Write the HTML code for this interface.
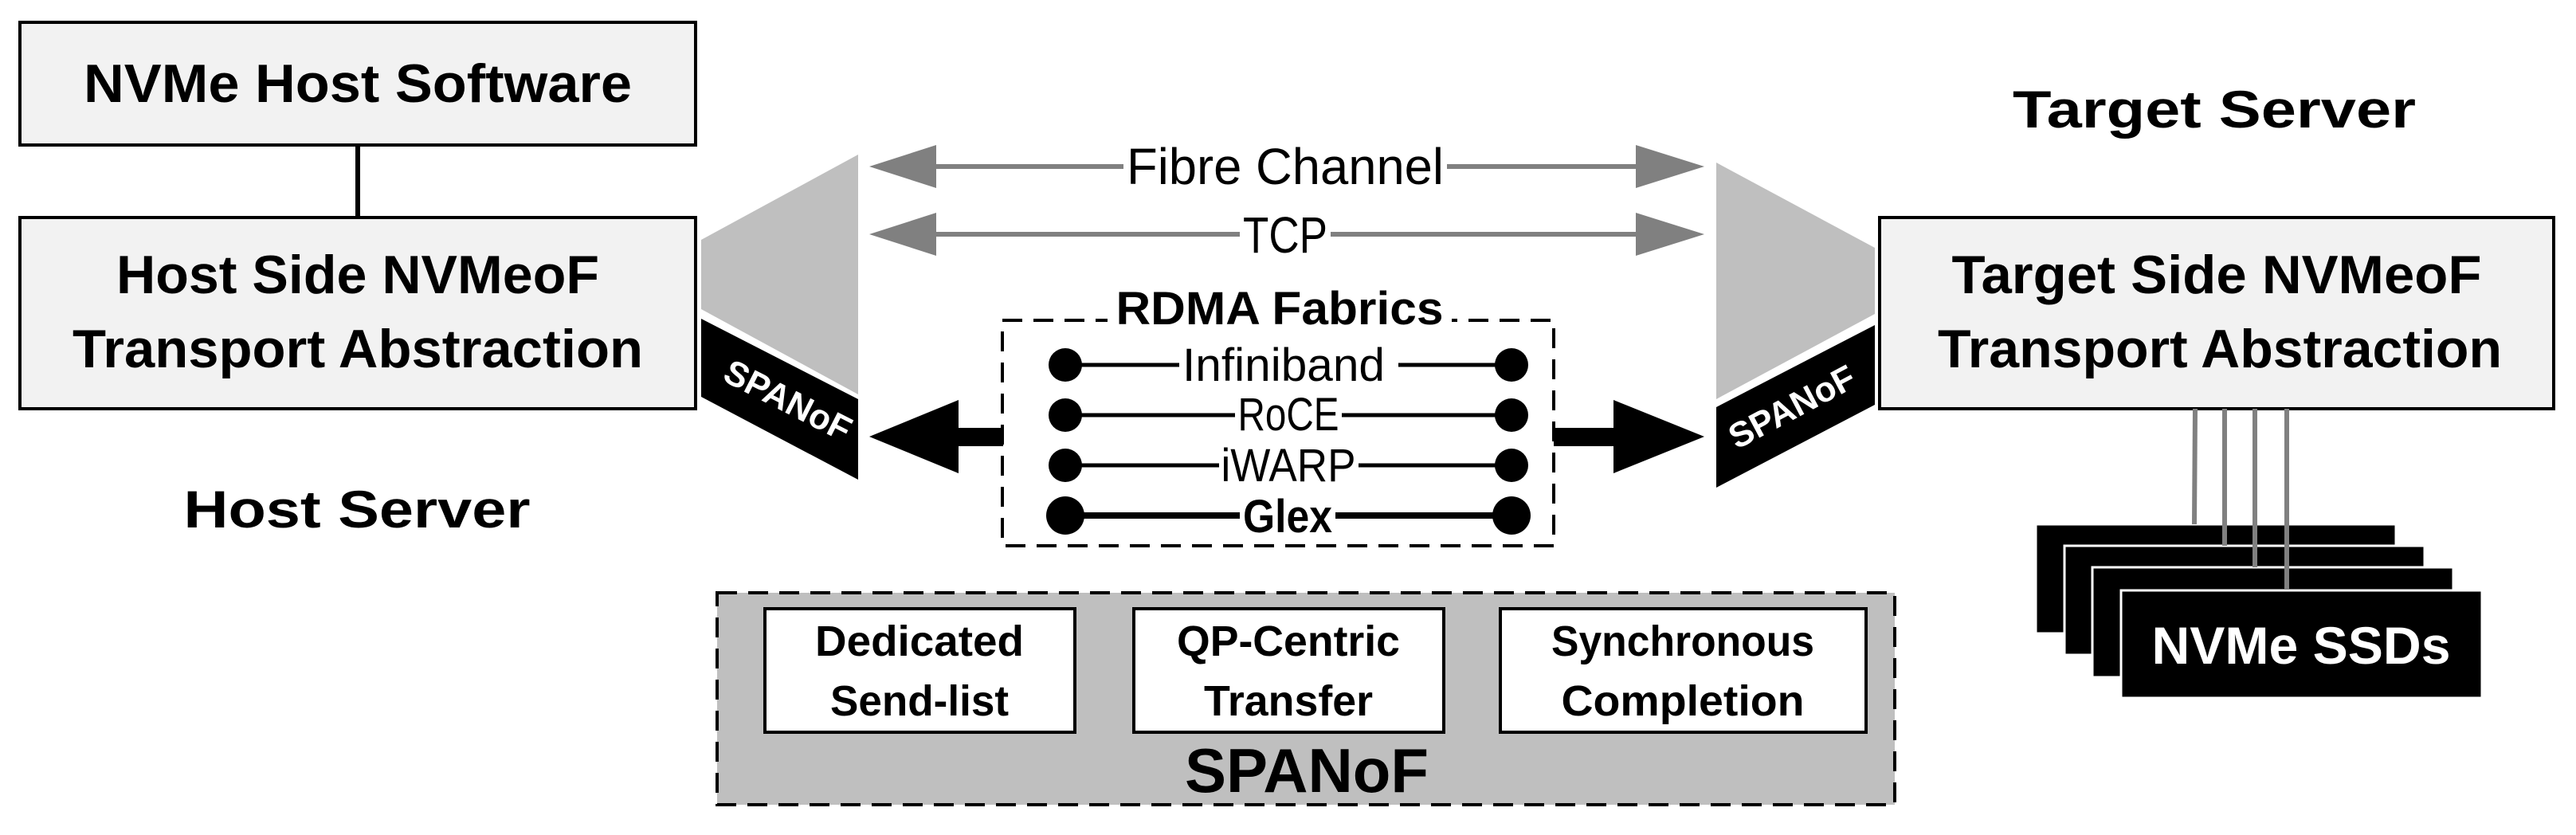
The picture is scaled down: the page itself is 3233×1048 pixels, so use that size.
<!DOCTYPE html>
<html><head><meta charset="utf-8"><style>html,body{margin:0;padding:0;background:#fff}svg{display:block}</style></head>
<body>
<svg width="3233" height="1048" viewBox="0 0 3233 1048" xmlns="http://www.w3.org/2000/svg" font-family="Liberation Sans, Arial, sans-serif">
<!-- Host boxes -->
<rect x="25" y="28" width="848" height="154" fill="#f2f2f2" stroke="#000" stroke-width="4"/>
<text x="449" y="128" font-size="68" font-weight="bold" text-anchor="middle" textLength="688" lengthAdjust="spacingAndGlyphs">NVMe Host Software</text>
<line x1="449" y1="182" x2="449" y2="273" stroke="#000" stroke-width="6"/>
<rect x="25" y="273" width="848" height="240" fill="#f2f2f2" stroke="#000" stroke-width="4"/>
<text x="449" y="368" font-size="68" font-weight="bold" text-anchor="middle" textLength="606" lengthAdjust="spacingAndGlyphs">Host Side NVMeoF</text>
<text x="449" y="461" font-size="68" font-weight="bold" text-anchor="middle" textLength="716" lengthAdjust="spacingAndGlyphs">Transport Abstraction</text>
<text x="448" y="662" font-size="66" font-weight="bold" text-anchor="middle" textLength="435" lengthAdjust="spacingAndGlyphs">Host Server</text>

<!-- Left trapezoid -->
<polygon points="880,301 1077,194 1077,495 880,388" fill="#bfbfbf"/>
<polygon points="880,400 1077,501 1077,602 880,498" fill="#000"/>
<text x="0" y="0" font-size="44" font-weight="bold" fill="#fff" text-anchor="middle" transform="translate(982,516) rotate(27)">SPANoF</text>

<!-- Right trapezoid -->
<polygon points="2154,204 2353,311 2353,394 2154,501" fill="#bfbfbf"/>
<polygon points="2154,511 2353,408 2353,508 2154,612" fill="#000"/>
<text x="0" y="0" font-size="44" font-weight="bold" fill="#fff" text-anchor="middle" transform="translate(2256,524) rotate(-28)">SPANoF</text>

<!-- Gray arrows -->
<line x1="1170" y1="209" x2="1410" y2="209" stroke="#808080" stroke-width="6"/>
<line x1="1816" y1="209" x2="2058" y2="209" stroke="#808080" stroke-width="6"/>
<polygon points="1091,209 1175,182 1175,236" fill="#808080"/>
<polygon points="2139,209 2053,182 2053,236" fill="#808080"/>
<text x="1613" y="231" font-size="64" text-anchor="middle" textLength="398" lengthAdjust="spacingAndGlyphs">Fibre Channel</text>

<line x1="1170" y1="294" x2="1556" y2="294" stroke="#808080" stroke-width="6"/>
<line x1="1670" y1="294" x2="2058" y2="294" stroke="#808080" stroke-width="6"/>
<polygon points="1091,294 1175,267 1175,321" fill="#808080"/>
<polygon points="2139,294 2053,267 2053,321" fill="#808080"/>
<text x="1613" y="317" font-size="64" text-anchor="middle" textLength="106" lengthAdjust="spacingAndGlyphs">TCP</text>

<!-- RDMA box -->
<rect x="1258" y="402" width="692" height="283" fill="none" stroke="#000" stroke-width="4" stroke-dasharray="25,14"/>
<rect x="1390" y="370" width="432" height="50" fill="#fff"/>
<text x="1606" y="407" font-size="58" font-weight="bold" text-anchor="middle" textLength="411" lengthAdjust="spacingAndGlyphs">RDMA Fabrics</text>

<g stroke="#000" stroke-width="5">
<line x1="1337" y1="458" x2="1480" y2="458"/><line x1="1755" y1="458" x2="1897" y2="458"/>
<line x1="1337" y1="521" x2="1550" y2="521"/><line x1="1684" y1="521" x2="1897" y2="521"/>
<line x1="1337" y1="584" x2="1530" y2="584"/><line x1="1705" y1="584" x2="1897" y2="584"/>
<line x1="1337" y1="647" x2="1556" y2="647" stroke-width="8"/><line x1="1676" y1="647" x2="1897" y2="647" stroke-width="8"/>
</g>
<g fill="#000">
<circle cx="1337" cy="458" r="21"/><circle cx="1897" cy="458" r="21"/>
<circle cx="1337" cy="521" r="21"/><circle cx="1897" cy="521" r="21"/>
<circle cx="1337" cy="584" r="21"/><circle cx="1897" cy="584" r="21"/>
<circle cx="1337" cy="647" r="24"/><circle cx="1897" cy="647" r="24"/>
</g>
<text x="1611" y="478" font-size="58" text-anchor="middle" textLength="254" lengthAdjust="spacingAndGlyphs">Infiniband</text>
<text x="1617" y="540" font-size="58" text-anchor="middle" textLength="127" lengthAdjust="spacingAndGlyphs">RoCE</text>
<text x="1617" y="604" font-size="58" text-anchor="middle" textLength="169" lengthAdjust="spacingAndGlyphs">iWARP</text>
<text x="1616" y="668" font-size="58" font-weight="bold" text-anchor="middle" textLength="112" lengthAdjust="spacingAndGlyphs">Glex</text>

<!-- Black arrows -->
<rect x="1195" y="537" width="64" height="23" fill="#000"/>
<polygon points="1091,548 1203,502 1203,594" fill="#000"/>
<rect x="1950" y="537" width="80" height="23" fill="#000"/>
<polygon points="2139,548 2025,502 2025,594" fill="#000"/>

<!-- SPANoF box -->
<rect x="900" y="744" width="1478" height="266" fill="#bfbfbf" stroke="#000" stroke-width="4" stroke-dasharray="25,14"/>
<rect x="960" y="764" width="389" height="155" fill="#fff" stroke="#000" stroke-width="4"/>
<rect x="1423" y="764" width="389" height="155" fill="#fff" stroke="#000" stroke-width="4"/>
<rect x="1883" y="764" width="459" height="155" fill="#fff" stroke="#000" stroke-width="4"/>
<g font-size="54" font-weight="bold" text-anchor="middle">
<text x="1154" y="823" textLength="262" lengthAdjust="spacingAndGlyphs">Dedicated</text>
<text x="1154" y="898" textLength="224" lengthAdjust="spacingAndGlyphs">Send-list</text>
<text x="1617" y="823" textLength="280" lengthAdjust="spacingAndGlyphs">QP-Centric</text>
<text x="1617" y="898" textLength="212" lengthAdjust="spacingAndGlyphs">Transfer</text>
<text x="2112" y="823" textLength="330" lengthAdjust="spacingAndGlyphs">Synchronous</text>
<text x="2112" y="898" textLength="305" lengthAdjust="spacingAndGlyphs">Completion</text>
</g>
<text x="1640" y="994" font-size="78" font-weight="bold" text-anchor="middle" textLength="306" lengthAdjust="spacingAndGlyphs">SPANoF</text>

<!-- Target -->
<text x="2779" y="160" font-size="66" font-weight="bold" text-anchor="middle" textLength="506" lengthAdjust="spacingAndGlyphs">Target Server</text>
<rect x="2359" y="273" width="846" height="240" fill="#f2f2f2" stroke="#000" stroke-width="4"/>
<text x="2782" y="368" font-size="68" font-weight="bold" text-anchor="middle" textLength="665" lengthAdjust="spacingAndGlyphs">Target Side NVMeoF</text>
<text x="2786" y="461" font-size="68" font-weight="bold" text-anchor="middle" textLength="708" lengthAdjust="spacingAndGlyphs">Transport Abstraction</text>

<!-- SSDs -->
<rect x="2555" y="658" width="452" height="137" fill="#000" stroke="#fff" stroke-width="3"/>
<rect x="2591" y="685" width="452" height="137" fill="#000" stroke="#fff" stroke-width="3"/>
<rect x="2626" y="712" width="453" height="138" fill="#000" stroke="#fff" stroke-width="3"/>
<rect x="2662" y="741" width="453" height="135" fill="#000" stroke="#fff" stroke-width="3"/>
<g stroke="#808080" stroke-width="6">
<line x1="2755" y1="513" x2="2754" y2="658"/>
<line x1="2792" y1="513" x2="2792" y2="685"/>
<line x1="2830" y1="513" x2="2830" y2="712"/>
<line x1="2870" y1="513" x2="2870" y2="739"/>
</g>
<text x="2888" y="833" font-size="66" font-weight="bold" fill="#fff" text-anchor="middle" textLength="375" lengthAdjust="spacingAndGlyphs">NVMe SSDs</text>
</svg>
</body></html>
